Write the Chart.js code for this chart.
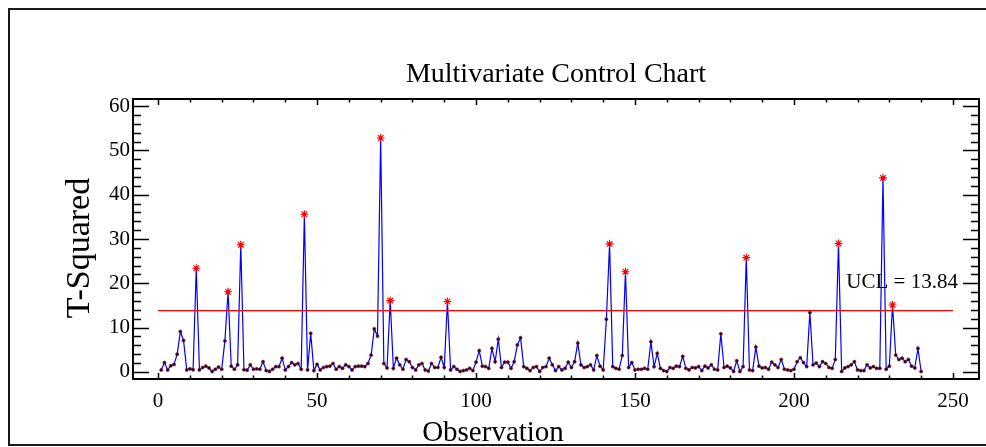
<!DOCTYPE html>
<html>
<head>
<meta charset="utf-8">
<script src="https://cdn.jsdelivr.net/npm/chart.js@4/dist/chart.umd.min.js"></script>
<style>
  html, body { margin: 0; padding: 0; background: #fff; }
  #wrap { width: 986px; height: 447px; }
</style>
</head>
<body>
<div id="wrap"><canvas id="c" width="986" height="447"></canvas></div>
<script>
// ---- Data ----
const chartTitle = "Multivariate Control Chart";
const xAxisTitle = "Observation";
const yAxisTitle = "T-Squared";
const UCL = 13.84;
const uclLabel = "UCL = 13.84";
const xTicks = [0, 50, 100, 150, 200, 250];
const yTicks = [0, 10, 20, 30, 40, 50, 60];
const tSquared = [
  0.45,2.1,0.45,1.4,1.7,4.0,9.1,7.1,0.45,0.7,
  0.5,23.4,0.45,1.0,1.3,0.9,0.1,0.6,1.1,0.6,
  7.0,18.1,1.3,0.6,1.6,28.7,0.5,0.4,1.6,0.6,
  0.7,0.6,2.3,0.3,0.1,0.6,1.2,1.2,3.1,0.45,
  1.2,2.1,1.6,1.9,0.6,35.6,0.45,8.7,0.3,1.7,
  0.45,1.0,1.2,1.3,1.9,0.6,1.2,0.8,1.6,1.2,
  0.45,1.2,1.3,1.3,1.2,1.9,3.8,9.7,8.1,52.8,
  1.9,0.9,16.1,0.8,3.1,1.6,0.6,2.8,2.3,1.0,
  0.45,1.6,1.9,0.45,0.2,1.9,1.0,1.0,3.3,1.0,
  15.9,0.45,1.2,0.6,0.1,0.3,0.45,0.8,0.3,2.2,
  4.8,1.3,1.2,0.8,5.3,2.3,7.4,1.0,2.2,2.2,
  0.8,2.3,6.1,7.7,1.2,0.8,0.3,1.0,1.2,0.1,
  1.0,1.2,3.1,1.6,0.3,1.2,0.45,0.8,2.2,1.0,
  2.3,6.5,1.6,1.0,1.2,1.6,0.45,3.7,1.3,0.45,
  11.9,28.9,1.2,0.8,0.6,3.7,22.6,1.0,2.1,0.45,
  0.6,0.6,0.8,0.6,6.8,1.2,4.2,0.8,0.3,0.1,
  1.0,0.8,1.3,1.2,3.5,0.8,0.45,1.0,0.9,1.2,
  0.3,1.3,0.9,1.6,0.6,0.45,8.6,1.0,1.3,0.9,
  0.1,2.5,0.1,1.2,25.8,0.45,0.3,5.6,1.3,0.9,
  1.0,0.6,2.2,1.6,1.0,2.8,0.6,0.45,0.3,0.6,
  2.3,3.2,2.1,1.2,13.4,1.6,2.0,1.2,2.3,1.9,
  1.0,0.8,2.8,29.0,0.1,0.9,1.2,1.6,2.3,0.45,
  0.3,0.3,1.6,0.9,1.2,0.8,0.8,43.8,0.6,1.3,
  15.1,3.8,2.8,3.1,2.3,2.8,1.3,0.9,5.3,0.1
];
const observations = tSquared.map((_, i) => i + 1);

// ---- Derived tables ----
const seriesPts = observations.map((o, i) => ({ x: o, y: tSquared[i] }));
const outPts = seriesPts.filter(p => p.y > UCL);
const uclPts = [{ x: 0, y: UCL }, { x: 250, y: UCL }];

const SERIF = "'Liberation Serif', 'Times New Roman', serif";

const decorPlugin = {
  id: 'decor',
  beforeDraw(chart) {
    const ctx = chart.ctx;
    ctx.save();
    ctx.strokeStyle = '#1a1a1a';
    ctx.lineWidth = 2;
    ctx.strokeRect(9, 9, 990, 436);
    ctx.restore();
  },
  afterDraw(chart) {
    const { ctx, chartArea: a, scales: { x, y } } = chart;
    ctx.save();
    ctx.strokeStyle = '#000';
    ctx.lineWidth = 2;
    ctx.strokeRect(a.left, a.top, a.right - a.left, a.bottom - a.top);
    ctx.lineWidth = 1.5;
    ctx.beginPath();
    for (let v = 0; v <= 250; v += 10) {
      const px = Math.round(x.getPixelForValue(v)) + 0.5;
      const L = v % 50 === 0 ? 6 : 3.5;
      ctx.moveTo(px, a.bottom); ctx.lineTo(px, a.bottom - L);
      ctx.moveTo(px, a.top); ctx.lineTo(px, a.top + L);
    }
    for (let v = 0; v <= 60; v += 2) {
      const py = Math.round(y.getPixelForValue(v)) + 0.5;
      const L = v % 10 === 0 ? 16 : 8;
      ctx.moveTo(a.left, py); ctx.lineTo(a.left + L, py);
      ctx.moveTo(a.right, py); ctx.lineTo(a.right - L, py);
    }
    ctx.stroke();

    ctx.fillStyle = '#000';
    ctx.font = "21px " + SERIF;
    ctx.textAlign = 'right';
    ctx.textBaseline = 'alphabetic';
    ctx.fillText(uclLabel, x.getPixelForValue(250) + 5, y.getPixelForValue(UCL) - 23);

    ctx.font = "29px " + SERIF;
    ctx.textAlign = 'center';
    ctx.fillText(xAxisTitle, chart.width / 2, 441);

    ctx.translate(80, 248);
    ctx.rotate(-Math.PI / 2);
    ctx.font = "34px " + SERIF;
    ctx.textBaseline = 'middle';
    ctx.fillText(yAxisTitle, 0, 0);
    ctx.restore();
  }
};

new Chart(document.getElementById('c'), {
  type: 'line',
  data: {
    datasets: [
      {
        label: 'Out of control',
        data: outPts,
        showLine: false,
        pointStyle: 'star',
        pointRadius: 4,
        pointBorderColor: '#ff0000',
        pointBorderWidth: 1.1,
        pointBackgroundColor: '#ff0000',
        order: 0
      },
      {
        label: 'UCL',
        data: uclPts,
        borderColor: '#ff0000',
        borderWidth: 1.3,
        pointRadius: 0,
        order: 1
      },
      {
        label: 'T-Squared',
        data: seriesPts,
        borderColor: '#0000ff',
        borderWidth: 1.2,
        tension: 0,
        pointStyle: 'circle',
        pointRadius: 1.6,
        pointBorderWidth: 0.6,
        pointBorderColor: '#7a2a3a',
        pointBackgroundColor: '#2a0018',
        order: 2
      }
    ]
  },
  options: {
    responsive: false,
    animation: false,
    devicePixelRatio: 1,
    layout: { padding: { left: 0, right: 7, top: 0, bottom: 0 } },
    plugins: {
      legend: { display: false },
      tooltip: { enabled: false },
      title: {
        display: true,
        fullSize: false,
        text: chartTitle,
        color: '#000',
        font: { family: SERIF, size: 28, weight: 'normal', lineHeight: 1.2 },
        padding: { top: 58, bottom: 7.4 }
      }
    },
    scales: {
      x: {
        type: 'linear',
        min: -7.9,
        max: 258.2,
        afterBuildTicks: s => { s.ticks = xTicks.map(v => ({ value: v })); },
        afterFit: s => { s.height = 68; },
        grid: { display: false, drawTicks: false },
        border: { display: false },
        ticks: {
          color: '#000',
          padding: 10,
          maxRotation: 0,
          font: { family: SERIF, size: 21 }
        }
      },
      y: {
        type: 'linear',
        min: -1.6,
        max: 61.6,
        afterBuildTicks: s => { s.ticks = yTicks.map(v => ({ value: v })); },
        afterFit: s => { s.width = 133; },
        grid: { display: false, drawTicks: false },
        border: { display: false },
        ticks: {
          color: '#000',
          padding: 3,
          font: { family: SERIF, size: 21 }
        }
      }
    }
  },
  plugins: [decorPlugin]
});
</script>
</body>
</html>
